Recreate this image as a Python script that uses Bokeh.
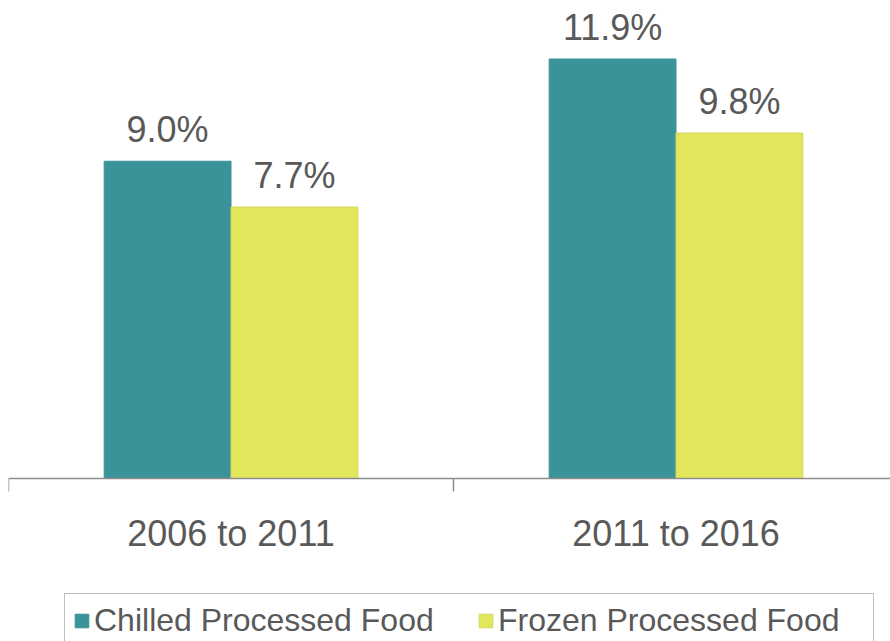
from bokeh.plotting import figure
from bokeh.models import ColumnDataSource, Range1d, FixedTicker, Legend, LegendItem
from bokeh.core.properties import value
from bokeh.embed import file_html
from bokeh.resources import INLINE

# ---- data ----
periods = ["2006 to 2011", "2011 to 2016"]
chilled = [9.0, 11.9]
frozen = [7.7, 9.8]
series_names = ["Chilled Processed Food", "Frozen Processed Food"]
colors = ["#3a9398", "#e1e65a"]

FONT = "Liberation Sans"
TXT = "#595959"
AXC = "#8c8c8c"

centers = [i + 0.5 for i in range(len(periods))]
bar_w = 0.285
src = ColumnDataSource(dict(
    xc=[c - bar_w / 2 for c in centers],
    xf=[c + bar_w / 2 for c in centers],
    chilled=chilled,
    frozen=frozen,
    lc=[f"{v:.1f}%" for v in chilled],
    lf=[f"{v:.1f}%" for v in frozen],
))

p = figure(width=890, height=641, output_backend="svg", toolbar_location=None,
           x_range=Range1d(0, 882 / 445), y_range=Range1d(-4.624, 13.56),
           min_border_left=8, min_border_right=0, min_border_top=0,
           min_border_bottom=0, y_axis_type=None, outline_line_color=None,
           background_fill_color="white", border_fill_color="white")
p.grid.visible = False

r1 = p.vbar(x="xc", top="chilled", bottom=0, width=bar_w, source=src,
            fill_color=colors[0], line_color=colors[0], line_width=1)
r2 = p.vbar(x="xf", top="frozen", bottom=0, width=bar_w, source=src,
            fill_color=colors[1], line_color="#d4d85a", line_width=1)

for x, y, t in (("xc", "chilled", "lc"), ("xf", "frozen", "lf")):
    p.text(x=x, y=y, text=t, source=src, text_font=value(FONT),
           text_font_size="36px", text_color=TXT, text_align="center",
           text_baseline="alphabetic", y_offset=-32)

ax = p.xaxis[0]
ax.fixed_location = 0
ax.ticker = FixedTicker(ticks=centers, minor_ticks=[0, 1, 2])
ax.major_label_overrides = {c: lab for c, lab in zip(centers, periods)}
ax.major_tick_out = 0
ax.major_tick_in = 0
ax.minor_tick_out = 13
ax.minor_tick_in = 0
ax.minor_tick_line_color = AXC
ax.minor_tick_line_width = 1.5
ax.axis_line_color = AXC
ax.axis_line_width = 1.5
ax.major_label_standoff = 21
ax.major_label_text_font = FONT
ax.major_label_text_font_size = "36px"
ax.major_label_text_color = TXT

legend = Legend(items=[LegendItem(label=value(series_names[0]), renderers=[r1]),
                       LegendItem(label=value(series_names[1]), renderers=[r2])],
                orientation="horizontal", location=(56, -7),
                glyph_width=17, glyph_height=17, label_standoff=4, spacing=16,
                label_width=367,
                label_text_font=FONT, label_text_font_size="32px",
                label_text_color=TXT, border_line_color="#7f7f7f",
                border_line_width=1.5, background_fill_color="white",
                background_fill_alpha=1.0, padding=8)
p.add_layout(legend, "center")

open("out.html", "w").write(file_html(p, INLINE))
